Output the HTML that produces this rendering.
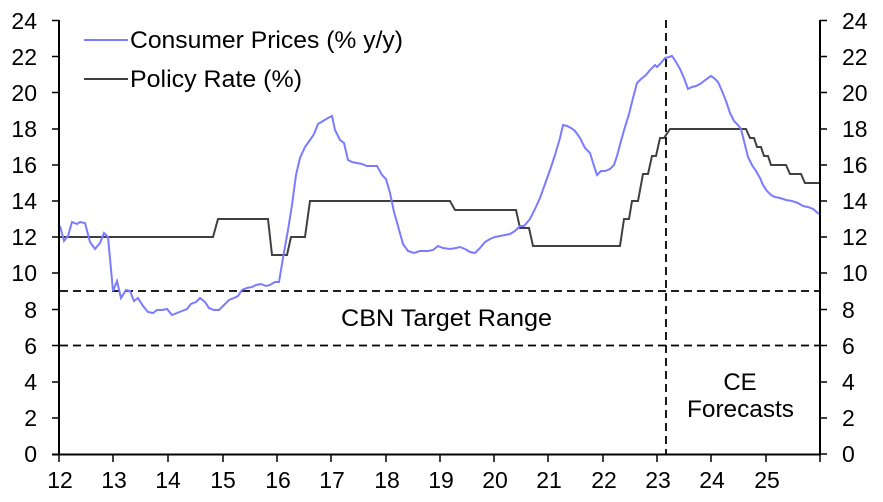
<!DOCTYPE html>
<html><head><meta charset="utf-8"><style>
body{margin:0;background:#fff}
text{font-family:"Liberation Sans",Arial,sans-serif;font-size:23px;fill:#000}
</style></head><body>
<svg width="883" height="497" viewBox="0 0 883 497" xmlns="http://www.w3.org/2000/svg">
<g stroke="#000" stroke-width="1.8" stroke-dasharray="8,5" fill="none">
<line x1="60" y1="291" x2="820" y2="291"/>
<line x1="60" y1="345.5" x2="820" y2="345.5"/>
<line x1="666" y1="20" x2="666" y2="454"/>
</g>
<polyline fill="none" stroke="#404040" stroke-width="2" points="60,237 213,237 218,219 268,219 272,255 287,255 291,237 305,237 310,201 450,201 455,210 516,210 520,228 529,228 533,246 620,246 624,219 629,219 632,201 638,201 643,174 648,174 652,156 656,156 660,138 664,138 670,129 746,129 750,138 754,138 757,147 761,147 764,156 768,156 771,165 786,165 790,174 801,174 805,183 819,183"/>
<polyline fill="none" stroke="#7b7bff" stroke-width="2" points="60,226 64,241 68,236 72,222 77,224 80,222 85,223 90,242 95,249 100,243 104,233 108,237 113,291 117,281 121,298 126,290 130,291 134,301 138,298 143,306 148,312 153,313 157,310 162,310 167,309 172,315 177,313 182,311 187,309 191,304 196,302 200,298 205,302 209,308 214,310 219,310 224,305 229,300 234,298 238,296 242,290 247,288 252,287 256,285 261,284 266,286 270,285 275,282 279,282 283,258 288,230 292,205 296,175 300,158 305,147 310,140 314,134 318,124 323,121 328,118 332,116 335,130 340,140 344,143 348,160 352,162 357,163 362,164 367,166 372,166 377,166 382,175 386,179 390,193 394,212 398,226 403,244 408,251 414,253 420,251 428,251 433,250 438,246 443,248 450,249 456,248 460,247 465,249 470,252 475,253 480,248 485,242 490,239 495,237 500,236 505,235 510,234 515,231 520,226 524,226 530,219 535,209 540,198 545,184 550,170 555,155 560,138 563,125 567,126 571,128 575,131 580,138 585,148 590,153 594,166 597,175 601,171 605,171 610,169 614,165 617,156 621,141 625,127 629,114 633,98 637,83 641,79 646,75 650,70 655,65 657,67 661,63 665,58 669,57 672,56 676,62 680,69 684,78 688,89 692,87 696,86 700,84 704,81 708,78 711,76 714,78 718,82 722,91 726,101 730,113 734,121 738,125 741,129 745,145 748,157 752,165 756,171 760,178 763,185 767,191 771,195 775,197 780,198 786,200 792,201 798,203 803,206 808,207 813,209 819,214"/>
<g stroke="#000" stroke-width="2" fill="none">
<line x1="59" y1="20" x2="59" y2="455"/>
<line x1="820" y1="20" x2="820" y2="455"/>
<line x1="52" y1="454.5" x2="821" y2="454.5"/>
</g>
<g stroke="#000" stroke-width="1.5">
<path d="M52 418H59M52 382H59M52 345.5H59M52 309.5H59M52 273H59M52 237H59M52 201H59M52 165H59M52 129H59M52 92.5H59M52 56.5H59M52 20.5H59"/>
<path d="M820 454H827M820 418H827M820 382H827M820 345.5H827M820 309.5H827M820 273H827M820 237H827M820 201H827M820 165H827M820 129H827M820 92.5H827M820 56.5H827M820 20.5H827"/>
<path d="M59 454V462M113 454V462M168 454V462M223 454V462M277 454V462M331 454V462M386 454V462M440 454V462M494 454V462M548 454V462M603 454V462M657 454V462M711 454V462M766 454V462M820 454V462"/>
</g>
<g text-anchor="end">
<text x="37" y="462">0</text><text x="37" y="426">2</text><text x="37" y="390">4</text><text x="37" y="354">6</text><text x="37" y="318">8</text><text x="37" y="281">10</text><text x="37" y="245">12</text><text x="37" y="209">14</text><text x="37" y="173">16</text><text x="37" y="137">18</text><text x="37" y="101">20</text><text x="37" y="65">22</text><text x="37" y="29">24</text>
</g>
<g text-anchor="start">
<text x="842" y="462">0</text><text x="842" y="426">2</text><text x="842" y="390">4</text><text x="842" y="354">6</text><text x="842" y="318">8</text><text x="842" y="281">10</text><text x="842" y="245">12</text><text x="842" y="209">14</text><text x="842" y="173">16</text><text x="842" y="137">18</text><text x="842" y="101">20</text><text x="842" y="65">22</text><text x="842" y="29">24</text>
</g>
<g text-anchor="middle">
<text x="60" y="488">12</text><text x="114" y="488">13</text><text x="168" y="488">14</text><text x="223" y="488">15</text><text x="278" y="488">16</text><text x="332" y="488">17</text><text x="387" y="488">18</text><text x="441" y="488">19</text><text x="495" y="488">20</text><text x="549" y="488">21</text><text x="604" y="488">22</text><text x="658" y="488">23</text><text x="712" y="488">24</text><text x="767" y="488">25</text>
</g>
<text x="341" y="326" textLength="211" lengthAdjust="spacingAndGlyphs" style="font-size:24px">CBN Target Range</text>
<text x="740" y="390" text-anchor="middle" style="font-size:24px">CE</text>
<text x="687" y="417" textLength="107" lengthAdjust="spacingAndGlyphs" style="font-size:24px">Forecasts</text>
<line x1="84" y1="40" x2="128" y2="40" stroke="#7b7bff" stroke-width="2"/>
<line x1="84" y1="79" x2="128" y2="79" stroke="#404040" stroke-width="2"/>
<text x="130" y="48" textLength="273" lengthAdjust="spacingAndGlyphs" style="font-size:24px">Consumer Prices (% y/y)</text>
<text x="130" y="87" textLength="172" lengthAdjust="spacingAndGlyphs" style="font-size:24px">Policy Rate (%)</text>
</svg>
</body></html>
